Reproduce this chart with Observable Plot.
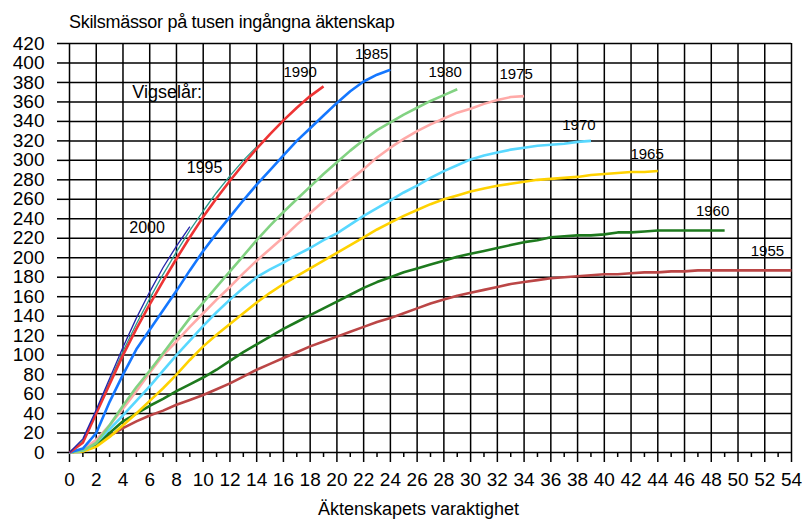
<!DOCTYPE html>
<html>
<head>
<meta charset="utf-8">
<script src="https://cdn.jsdelivr.net/npm/d3@7"></script>
<script src="https://cdn.jsdelivr.net/npm/@observablehq/plot@0.6"></script>
<style>
  html, body { margin: 0; padding: 0; background: #fff; }
  #wrap { width: 804px; height: 532px; position: relative; overflow: hidden; }
  #title { position: relative; height: 34px; font-family: "Liberation Sans", Arial, sans-serif; font-size: 18px; letter-spacing: -0.3px; color: #000; }
  #title span { position: absolute; left: 69px; top: 14px; line-height: 16px; white-space: nowrap; }
  svg { display: block; }
</style>
</head>
<body>
<div id="wrap">
  <div id="title"><span>Skilsmässor på tusen ingångna äktenskap</span></div>
  <div id="chart"></div>
</div>
<script>
// Vigselår (marriage cohorts)
const cohorts = ["1955", "1960", "1965", "1970", "1975", "1980", "1985", "1990", "1995", "2000"];

// Divorces per thousand marriages, by marriage duration 0,1,2,... years
const r1955 = [0,2,9,17,25,32,38,43,49,54,59,65,71,78,85,91,97,103,109,114,119,124,129,134,138,143,148,153,157,161,164,167,170,173,175,177,179,180,181,182,183,183,184,185,185,186,186,187,187,187,187,187,187,187,187];
const r1960 = [0,2,8,20,32,40,48,55,63,70,77,85,94,103,111,119,127,134,141,148,155,162,169,175,180,185,189,193,197,201,204,207,210,213,216,218,221,222,223,223,224,226,226,227,228,228,228,228,228,228];
const r1965 = [0,1,6,16,28,40,53,66,80,95,109,121,132,143,154,164,173,181,189,197,205,213,221,229,236,243,249,255,260,264,268,271,274,276,278,280,281,282,283,285,286,287,288,288,289];
const r1970 = [0,2,10,24,38,53,68,84,100,115,130,144,157,169,180,188,195,203,210,218,225,234,243,251,259,267,274,282,289,295,301,305,308,311,313,315,316,317,319,320];
const r1975 = [0,3,13,28,45,63,82,100,114,129,143,157,170,184,197,209,221,234,246,258,269,280,291,303,313,322,330,337,343,349,353,358,362,365,366];
const r1980 = [0,2,10,28,48,67,84,102,120,138,154,170,186,202,218,233,247,260,273,286,298,310,321,331,339,347,354,361,367,373];
const r1985 = [0,4,20,52,80,106,126,146,166,187,207,225,242,259,275,290,305,320,333,346,359,371,381,388,393];
const r1990 = [0,10,40,70,100,127,152,176,199,221,242,261,279,296,312,327,341,354,366,376];
const r1995 = [0,12,42,73,104,132,158,183,206,228,248,267,284,300,314];
const r2000 = [0,14,44,76,108,138,165,190,212,232];

const series = [r1955, r1960, r1965, r1970, r1975, r1980, r1985, r1990, r1995, r2000];

// Axis ticks
const xTicks = d3.range(0, 55, 2);
const xMinor = d3.range(1, 54, 2);
const yTicks = d3.range(0, 421, 20);

// Annotations (in data units: duration, rate)
const labelText = ["1955", "1960", "1965", "1970", "1975", "1980", "1985", "1990", "1995", "2000"];
const labelT = [52.2, 48.1, 43.2, 38.1, 33.4, 28.1, 22.6, 17.25, 10.1, 5.8];
const labelV = [207, 248, 306, 336, 389, 391, 409, 391, 292, 231];

const colors = {
  "1955": "#bb4646", "1960": "#1e7a1e", "1965": "#ffd200", "1970": "#58d8ff",
  "1975": "#ffaaa8", "1980": "#82d282", "1985": "#1477ff", "1990": "#ee3434",
  "1995": "#2a9a8a", "2000": "#2424aa"
};
const widths = {"1995": 1.3, "2000": 1.3};

const rows = cohorts.flatMap((c, i) => series[i].map((v, t) => ({cohort: c, t, v})));
const drawOrder = ["1955", "1960", "1965", "1970", "1975", "1980", "1985", "1995", "1990", "2000"];

const labels = labelText.map((s, i) => ({s, t: labelT[i], v: labelV[i], big: s === "1995" || s === "2000"}));

const lineMarks = drawOrder.map(c => Plot.line(rows.filter(d => d.cohort === c), {
  x: "t", y: "v", stroke: colors[c], strokeWidth: widths[c] || 2.6, strokeLinejoin: "round", strokeLinecap: "butt"
}));

const chart = Plot.plot({
  width: 804,
  height: 498,
  marginTop: 9,
  marginBottom: 80,
  marginLeft: 69,
  marginRight: 13,
  x: {domain: [0, 54]},
  y: {domain: [0, 420]},
  style: {fontFamily: "'Liberation Sans', Arial, sans-serif", fontSize: "19px", color: "#000", background: "#fff", overflow: "visible"},
  marks: [
    Plot.gridX({ticks: xTicks, stroke: "#000", strokeOpacity: 1, strokeWidth: 1.5}),
    Plot.gridY({ticks: yTicks, stroke: "#000", strokeOpacity: 1, strokeWidth: 1.5}),
    Plot.axisY({ticks: yTicks, tickSize: 12, tickPadding: 13, label: null, strokeWidth: 1.5, fontSize: 19}),
    Plot.axisX({ticks: xTicks, tickSize: 10, tickPadding: 10, label: null, strokeWidth: 1.5, fontSize: 19}),
    Plot.axisX({ticks: xMinor, tickSize: 5, tickFormat: () => "", label: null, strokeWidth: 1.5}),
    ...lineMarks,
    Plot.text(labels.filter(d => !d.big), {x: "t", y: "v", text: "s", fontSize: 15, fill: "#000"}),
    Plot.text(labels.filter(d => d.big), {x: "t", y: "v", text: "s", fontSize: 16, fill: "#000"}),
    Plot.text(["Vigselår:"], {x: 4.7, y: 370, text: d => d, textAnchor: "start", fontSize: 18, fill: "#000"}),
    Plot.text(["Äktenskapets varaktighet"], {frameAnchor: "bottom", dx: -12, dy: 62, text: d => d, fontSize: 18, fill: "#000"})
  ]
});
document.getElementById("chart").appendChild(chart);
</script>
</body>
</html>
